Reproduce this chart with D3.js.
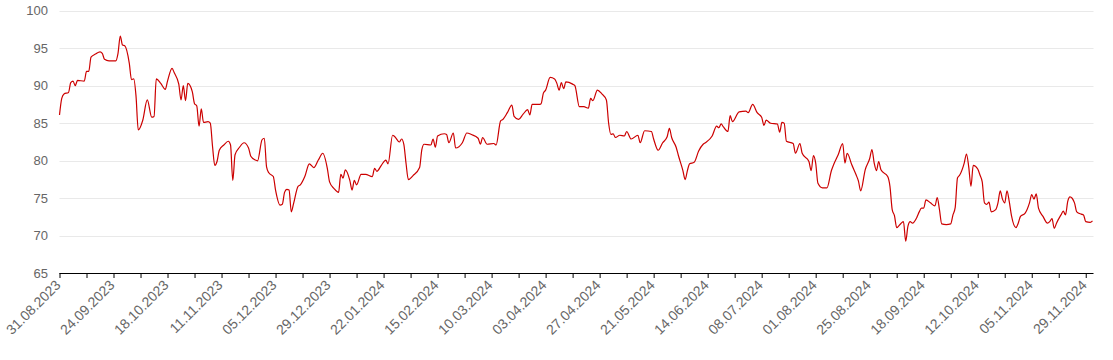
<!DOCTYPE html>
<html>
<head>
<meta charset="utf-8">
<script src="https://cdn.jsdelivr.net/npm/d3@7"></script>
<style>
  html, body { margin: 0; padding: 0; background: #fff; }
  svg { display: block; }
  text { font-family: "Liberation Sans", Arial, Helvetica, sans-serif; }
</style>
</head>
<body>
<svg id="chart" width="1113" height="360"></svg>
<script>
// ---- data ----
const startDate = "2023-08-31";
const endDate = "2024-12-02";
// days after startDate
const dayOffsets = [
  0,1,2,4,5,6,7,8,11,12,13,14,16,18,19,20,22,25,26,27,28,29,31,32,33,34,35,37,39,41,
  42,43,45,47,48,50,51,53,54,55,56,57,59,60,61,62,63,64,66,67,68,69,70,71,73,75,76,77,78,80,
  82,84,85,87,88,90,91,92,93,95,96,98,99,100,101,102,103,104,106,107,109,111,113,115,117,119,120,122,124,125,
  126,127,129,130,131,132,134,136,139,140,141,143,145,146,148,149,151,152,153,154,155,157,160,161,162,165,166,167,168,171,
  172,173,175,176,179,181,183,186,187,188,190,193,194,196,197,199,201,202,204,206,208,209,210,213,214,215,216,218,220,221,
  222,223,224,225,228,229,231,233,235,236,237,239,241,243,244,245,246,247,249,251,252,254,257,258,260,263,264,266,268,270,
  271,272,274,275,277,278,279,280,282,284,286,287,290,292,293,294,295,297,298,299,302,305,306,308,310,312,313,314,316,319,
  320,321,322,323,326,327,329,330,333,334,335,336,337,339,341,343,344,346,348,349,350,352,354,355,356,358,360,361,362,363,
  364,365,368,369,370,371,372,374,375,376,377,378,379,381,382,383,384,385,387,389,390,391,392,394,396,397,398,399,400,402,
  403,404,405,406,408,409,410,411,412,413,414,416,417,418,419,420,421,422,423,425,426,427,429,431,432,433,434,435,437,439,
  440,441,442,443,445,446,447,448,449,451,452,454,455,456,458,459
];
const values = [
  86.1,88.3,88.9,89.1,90.4,90.6,90.0,90.7,90.6,91.9,91.9,93.8,94.2,94.5,94.3,93.5,93.3,93.3,94.3,96.6,95.4,95.3,93.0,90.8,90.9,88.6,84.1,85.4,88.1,85.8,
  85.9,90.9,90.3,89.5,90.6,92.3,91.7,90.2,88.1,90.0,88.0,90.3,89.2,87.6,87.3,84.6,86.9,85.1,85.2,85.0,81.9,79.4,79.9,81.4,82.1,82.6,82.1,77.4,80.8,81.8,
  82.4,81.7,80.6,80.1,80.0,82.8,83.0,79.2,78.4,77.9,76.1,74.1,74.2,75.8,76.2,76.1,73.2,74.3,76.6,76.8,77.9,79.6,79.1,80.1,81.0,79.0,77.2,76.3,75.8,78.2,
  77.7,78.8,77.4,76.1,77.4,76.8,78.2,78.2,77.9,79.0,78.6,79.4,80.1,79.6,83.4,83.2,82.5,82.9,82.2,79.6,77.5,78.0,79.1,81.5,82.2,82.1,82.9,81.8,83.3,83.6,
  83.5,82.4,83.7,81.7,82.4,83.7,83.5,83.0,82.2,83.1,82.2,82.3,82.1,85.3,85.5,86.4,87.4,85.9,85.5,86.2,86.8,86.1,87.5,87.5,87.6,89.0,89.4,91.1,90.9,90.3,
  89.4,90.4,89.6,90.5,90.2,90.0,87.2,87.2,87.0,88.3,88.0,89.4,88.9,88.1,85.0,83.5,83.6,83.1,83.4,83.3,83.9,82.9,83.4,82.4,84.0,83.9,82.9,81.4,82.4,83.2,
  84.3,83.1,81.8,80.7,78.7,77.5,78.7,79.6,79.8,81.3,82.2,82.4,83.3,84.6,84.4,84.9,84.5,83.9,86.0,85.2,86.5,86.6,86.4,87.5,86.4,85.8,84.7,85.4,85.0,84.9,
  83.8,85.1,85.0,82.6,82.3,81.0,82.3,81.0,79.9,78.7,80.7,79.7,77.0,76.4,76.4,78.7,79.5,80.8,82.3,79.7,81.0,79.5,78.1,77.3,76.0,78.8,80.3,81.5,79.7,78.7,
  79.9,78.8,77.9,76.6,73.5,72.7,71.1,71.7,71.9,69.3,71.3,71.9,71.7,72.5,73.2,73.7,73.7,74.8,74.4,74.0,75.1,73.5,71.6,71.5,71.6,72.8,73.8,77.7,78.1,79.7,
  80.9,79.2,76.6,79.4,78.9,78.1,77.2,74.4,74.2,74.5,73.2,73.5,74.4,76.0,74.9,74.4,76.0,74.6,72.7,71.1,71.7,72.6,73.0,74.4,75.5,74.9,75.6,73.7,72.6,71.7,
  71.9,72.3,71.0,71.7,72.8,73.3,72.8,74.6,75.2,74.4,73.2,72.9,72.8,71.9,71.8,72.0
];
const yTicks = [65, 70, 75, 80, 85, 90, 95, 100];
const xTickStepDays = 12;

// ---- chart ----
const svg = d3.select("#chart");
const plotLeft = 59.5, plotRight = 1092.5, plotTop = 10.5, plotBottom = 273.5;

const parse = d3.utcParse("%Y-%m-%d");
const t0 = parse(startDate), t1 = parse(endDate);
const n = Math.min(dayOffsets.length, values.length);
const data = d3.range(n).map(i => ({ date: d3.utcDay.offset(t0, dayOffsets[i]), value: values[i] }));

const x = d3.scaleUtc().domain([t0, t1]).range([plotLeft, plotRight]);
const y = d3.scaleLinear().domain([65, 100]).range([plotBottom, plotTop]);

// gridlines
svg.append("g")
  .selectAll("line")
  .data(yTicks.filter(v => v !== 65))
  .join("line")
  .attr("x1", plotLeft).attr("x2", plotRight + 1)
  .attr("y1", d => Math.round(y(d)) + 0.5).attr("y2", d => Math.round(y(d)) + 0.5)
  .attr("stroke", "#e9e9e9").attr("stroke-width", 1);

// y axis labels
svg.append("g")
  .selectAll("text")
  .data(yTicks)
  .join("text")
  .attr("x", 48)
  .attr("y", d => y(d) + 4.5)
  .attr("text-anchor", "end")
  .attr("font-size", "13px")
  .attr("fill", "#666666")
  .text(d => d);

// x axis
const tickDates = d3.utcDay.every(1).range(t0, d3.utcDay.offset(t1, 1))
  .filter((d, i) => i % xTickStepDays === 0);
const fmt = d3.utcFormat("%d.%m.%Y");
const xAxis = d3.axisBottom(x).tickValues(tickDates).tickSize(5).tickSizeOuter(0).tickFormat("");
const gx = svg.append("g").attr("transform", `translate(0,${plotBottom - 0.5})`).call(xAxis);
gx.select(".domain").attr("stroke", "#000").attr("stroke-width", 1.2)
  .attr("d", `M${plotLeft},0.5H${plotRight + 1}`);
gx.selectAll(".tick line").attr("stroke", "#000").attr("stroke-width", 1);

svg.append("g")
  .selectAll("text")
  .data(tickDates.filter((d, i) => i % 2 === 0))
  .join("text")
  .attr("transform", d => `translate(${x(d) + 2},${plotBottom + 12.5}) rotate(-45)`)
  .attr("text-anchor", "end")
  .attr("font-size", "14px")
  .attr("fill", "#666666")
  .text(d => fmt(d));

// line
const line = d3.line()
  .x(d => x(d.date))
  .y(d => y(d.value))
  .curve(d3.curveMonotoneX);

svg.append("path")
  .datum(data)
  .attr("d", line)
  .attr("fill", "none")
  .attr("stroke", "#cc0000")
  .attr("stroke-width", 1.2)
  .attr("stroke-linejoin", "round");
</script>
</body>
</html>
